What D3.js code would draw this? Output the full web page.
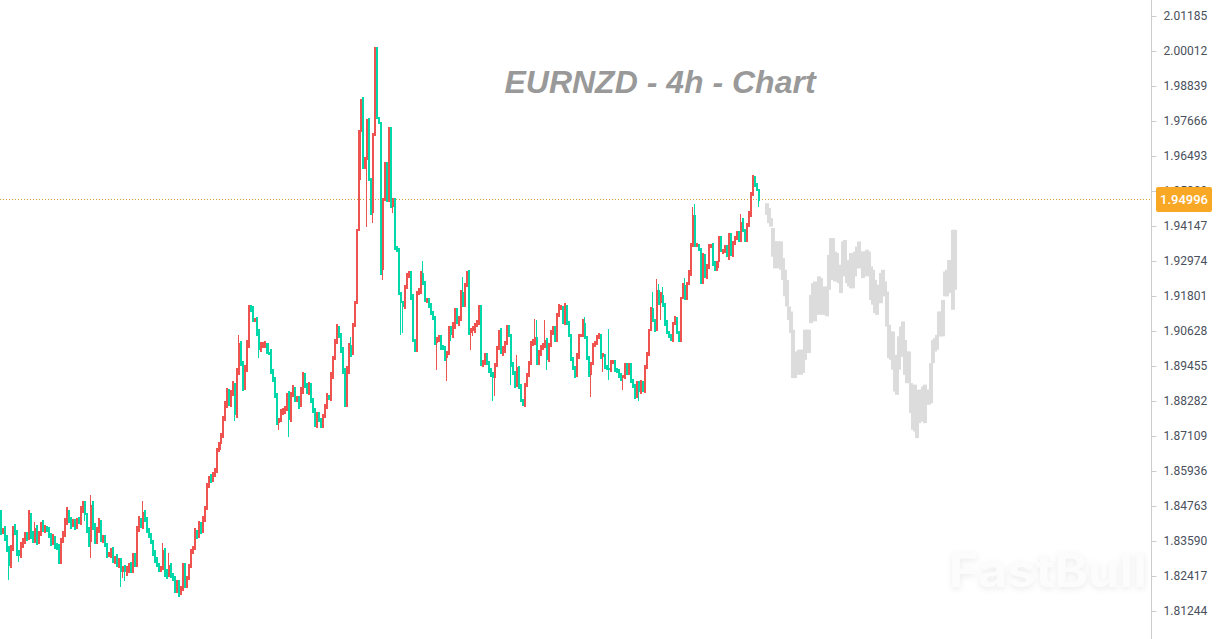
<!DOCTYPE html>
<html>
<head>
<meta charset="utf-8">
<script src="https://d3js.org/d3.v7.min.js"></script>
<style>
    html, body { margin: 0; padding: 0; background: white; overflow: hidden; }
</style>
</head>
<body>
<svg id="chart" width="1219" height="639"></svg>
<script>
var title = "EURNZD - 4h - Chart";
var watermark = "FastBull";
var lastPrice = 1.94996;
var firstOpen = 1.8453;

var tickValues = [2.01185, 2.00012, 1.98839, 1.97666, 1.96493, 1.95320, 1.94147, 1.92974, 1.91801,
    1.90628, 1.89455, 1.88282, 1.87109, 1.85936, 1.84763, 1.83590, 1.82417, 1.81244];

// closing price of each 4h candle, the open is the close before it
var closes = [
    1.8390,1.8397,1.8370,1.8336,1.8276,1.8336,1.8403,1.8390,1.8323,1.8309,
    1.8346,1.8363,1.8380,1.8370,1.8447,1.8380,1.8363,1.8403,1.8356,1.8387,
    1.8413,1.8397,1.8403,1.8397,1.8380,1.8356,1.8370,1.8343,1.8336,1.8296,
    1.8363,1.8380,1.8423,1.8457,1.8430,1.8413,1.8423,1.8410,1.8430,1.8423,
    1.8464,1.8480,1.8447,1.8397,1.8356,1.8480,1.8413,1.8363,1.8397,1.8423,
    1.8363,1.8370,1.8346,1.8313,1.8313,1.8330,1.8296,1.8303,1.8279,1.8296,
    1.8256,1.8269,1.8256,1.8263,1.8279,1.8263,1.8313,1.8279,1.8397,1.8430,
    1.8413,1.8457,1.8430,1.8397,1.8380,1.8356,1.8323,1.8296,1.8279,1.8263,
    1.8269,1.8330,1.8256,1.8246,1.8279,1.8246,1.8236,1.8196,1.8222,1.8189,
    1.8202,1.8279,1.8212,1.8236,1.8276,1.8323,1.8336,1.8390,1.8380,1.8413,
    1.8397,1.8437,1.8470,1.8547,1.8571,1.8564,1.8581,1.8598,1.8664,1.8685,
    1.8711,1.8772,1.8815,1.8859,1.8822,1.8855,1.8882,1.8782,1.8926,1.9023,
    1.8956,1.8872,1.8939,1.9016,1.9140,1.9133,1.9100,1.9100,1.9060,1.8999,
    1.9016,1.9016,1.9016,1.8993,1.8989,1.8926,1.8899,1.8849,1.8755,1.8765,
    1.8792,1.8792,1.8805,1.8849,1.8765,1.8849,1.8865,1.8839,1.8839,1.8815,
    1.8865,1.8916,1.8882,1.8859,1.8882,1.8832,1.8799,1.8748,1.8782,1.8765,
    1.8748,1.8778,1.8809,1.8842,1.8839,1.8912,1.8973,1.9026,1.9073,1.9050,
    1.8999,1.8932,1.8815,1.8932,1.9016,1.8989,1.9083,1.9157,1.9402,1.9730,
    1.9837,1.9609,1.9636,1.9770,1.9569,1.9458,1.9720,2.0011,1.9777,1.9760,
    1.9267,1.9502,1.9626,1.9502,1.9743,1.9479,1.9502,1.9341,1.9334,1.9190,
    1.9157,1.9144,1.9211,1.9251,1.9258,1.9177,1.9033,1.8999,1.9190,1.9200,
    1.9258,1.9224,1.9167,1.9167,1.9150,1.9123,1.9107,1.9023,1.9033,1.9043,
    1.9010,1.9006,1.8973,1.8989,1.9073,1.9050,1.9083,1.9133,1.9093,1.9107,
    1.9194,1.9150,1.9217,1.9261,1.9057,1.9066,1.9066,1.9083,1.9093,1.9144,
    1.8949,1.8956,1.8983,1.8956,1.8932,1.8922,1.8906,1.8949,1.9006,1.9060,
    1.8993,1.8999,1.9023,1.9077,1.9050,1.8943,1.8926,1.8882,1.8943,1.8882,
    1.8832,1.8815,1.8882,1.8916,1.8956,1.9023,1.9023,1.9043,1.8956,1.8993,
    1.9010,1.9016,1.9033,1.8966,1.9016,1.9057,1.9073,1.9033,1.9117,1.9140,
    1.9140,1.9093,1.9144,1.9093,1.9050,1.8973,1.8939,1.8916,1.8983,1.9050,
    1.9050,1.9090,1.9040,1.8973,1.8916,1.8956,1.9016,1.9023,1.9043,1.9050,
    1.8976,1.8983,1.8943,1.8939,1.8932,1.8959,1.8959,1.8932,1.8929,1.8916,
    1.8906,1.8909,1.8949,1.8922,1.8949,1.8899,1.8882,1.8849,1.8892,1.8859,
    1.8892,1.8865,1.8943,1.8983,1.9066,1.9140,1.9100,1.9066,1.9200,1.9157,
    1.9184,1.9150,1.9093,1.9057,1.9047,1.9033,1.9090,1.9107,1.9060,1.9030,
    1.9174,1.9217,1.9174,1.9224,1.9261,1.9351,1.9452,1.9351,1.9351,1.9334,
    1.9224,1.9318,1.9244,1.9284,1.9351,1.9351,1.9294,1.9274,1.9294,1.9375,
    1.9334,1.9334,1.9345,1.9318,1.9385,1.9318,1.9358,1.9375,1.9391,1.9368,
    1.9428,1.9402,1.9368,1.9418,1.9458,1.9526,1.9579,1.9552,1.9535,1.94996
];

// wick above the body, in pips
var upperWicks = [
    10,7,13,10,7,10,7,13,7,7,
    10,7,10,10,17,7,13,20,10,7,
    10,17,10,7,10,7,13,7,10,13,
    7,13,13,17,7,10,10,10,7,10,
    13,13,13,7,10,33,13,7,10,13,
    7,10,10,7,10,7,10,7,13,7,
    7,7,10,13,7,10,7,7,13,13,
    7,37,7,10,7,7,7,7,10,7,
    7,23,7,10,40,7,7,7,7,7,
    7,7,7,7,7,10,7,13,7,13,
    10,7,7,7,7,13,10,7,7,7,
    10,7,13,13,10,10,13,7,13,27,
    7,7,10,17,10,10,13,7,10,10,
    10,10,13,7,30,13,10,10,7,7,
    10,13,7,7,13,10,17,10,7,7,
    10,10,7,7,10,7,7,7,10,10,
    7,7,10,13,7,13,7,10,13,7,
    7,10,7,13,7,27,7,7,3,7,
    3,10,10,3,7,7,7,3,3,3,
    3,7,3,3,3,3,7,7,7,7,
    3,7,7,7,7,7,10,3,7,7,
    7,40,7,7,7,7,7,7,10,7,
    7,7,7,7,7,7,10,7,7,7,
    7,50,7,3,7,7,13,7,7,7,
    7,10,7,7,7,7,3,7,7,7,
    13,13,7,7,7,3,17,3,40,3,
    3,3,7,7,7,7,13,60,57,7,
    7,7,67,7,7,10,7,7,7,13,
    10,7,13,7,3,3,3,7,7,3,
    3,13,20,7,7,3,7,7,7,7,
    3,7,3,7,130,7,7,7,7,7,
    7,7,7,7,7,7,3,3,3,3,
    7,3,7,10,3,3,53,3,37,20,
    10,27,7,7,7,7,3,7,3,3,
    3,7,23,3,7,7,27,37,7,3,
    7,7,3,3,3,3,7,3,3,7,
    7,3,7,7,7,7,7,7,7,7,
    27,13,3,7,7,3,7,3,7,3
];

// wick below the body, in pips
var lowerWicks = [
    10,7,10,13,47,7,10,10,13,20,
    7,10,13,10,7,13,10,10,10,7,
    10,7,10,7,10,13,10,10,7,13,
    13,10,7,10,10,13,7,13,10,7,
    10,10,20,10,17,53,17,13,13,10,
    7,10,7,10,7,10,10,13,7,10,
    50,20,30,13,10,10,10,7,7,7,
    10,13,7,10,10,7,13,10,7,7,
    7,7,17,13,7,10,10,10,10,17,
    10,10,10,10,7,7,7,7,13,10,
    13,10,13,7,10,10,7,7,10,7,
    20,7,10,10,10,13,10,20,10,10,
    10,10,7,13,10,7,7,7,13,27,
    7,10,10,7,7,7,7,10,7,23,
    7,10,7,10,57,7,7,13,13,13,
    7,13,10,7,10,10,10,7,10,7,
    10,10,7,7,7,10,10,7,7,10,
    10,13,7,7,13,13,7,7,3,3,
    160,3,3,224,3,7,33,3,3,3,
    17,33,3,7,7,3,20,7,7,7,
    107,87,7,7,10,10,7,7,7,7,
    13,7,7,10,10,7,7,7,90,7,
    10,7,10,77,7,20,10,13,7,13,
    10,7,7,7,7,57,20,10,7,10,
    3,7,7,7,10,13,77,60,7,7,
    7,13,10,7,7,60,10,10,7,13,
    7,3,7,7,7,7,10,7,7,7,
    13,10,10,33,7,7,7,7,7,7,
    7,7,10,10,7,10,7,10,7,13,
    7,7,3,7,7,74,7,7,7,7,
    7,50,7,7,33,7,7,7,7,10,
    10,40,7,7,7,10,10,13,10,30,
    7,7,10,7,3,3,7,7,3,7,
    57,7,13,3,7,3,7,7,7,3,
    3,3,7,7,7,13,7,7,7,3,
    3,3,3,7,13,10,13,10,10,20,
    7,13,10,7,17,3,7,7,7,7,
    7,7,7,7,7,13,10,7,3,20
];

// the grey path after the last candle
var greyHighs = [
    1.9491,1.9475,1.9441,1.9408,1.9363,1.9363,1.9363,1.9363,1.9307,1.9268,
    1.9234,1.9145,1.9128,1.9067,1.8994,1.8989,1.9000,1.9000,1.9000,1.9067,
    1.9067,1.9067,1.9184,1.9223,1.9229,1.9223,1.9246,1.9240,1.9201,1.9212,
    1.9212,1.9318,1.9374,1.9374,1.9329,1.9324,1.9285,1.9268,1.9363,1.9368,
    1.9301,1.9301,1.9324,1.9273,1.9329,1.9346,1.9363,1.9329,1.9329,1.9329,
    1.9335,1.9329,1.9279,1.9268,1.9234,1.9218,1.9212,1.9257,1.9268,1.9229,
    1.9195,1.9084,1.9061,1.9061,1.8983,1.8944,1.9045,1.9078,1.9095,1.9033,
    1.8994,1.8994,1.8888,1.8877,1.8883,1.8821,1.8866,1.8866,1.8877,1.8883,
    1.8866,1.8866,1.8955,1.9033,1.9039,1.9050,1.9128,1.9128,1.9167,1.9262,
    1.9268,1.9301,1.9296,1.9402,1.9402
];
var greyLows = [
    1.9452,1.9424,1.9413,1.9312,1.9273,1.9273,1.9301,1.9268,1.9234,1.9179,
    1.9145,1.9100,1.9056,1.8905,1.8905,1.8916,1.8922,1.8916,1.8922,1.8966,
    1.8994,1.8989,1.9089,1.9117,1.9095,1.9117,1.9151,1.9117,1.9123,1.9117,
    1.9112,1.9201,1.9234,1.9268,1.9229,1.9229,1.9223,1.9190,1.9246,1.9268,
    1.9223,1.9212,1.9206,1.9206,1.9246,1.9273,1.9273,1.9273,1.9240,1.9246,
    1.9251,1.9246,1.9167,1.9151,1.9123,1.9117,1.9156,1.9156,1.9190,1.9179,
    1.9078,1.8972,1.8966,1.8933,1.8860,1.8849,1.8933,1.8977,1.8977,1.8916,
    1.8888,1.8888,1.8788,1.8732,1.8726,1.8704,1.8754,1.8760,1.8760,1.8754,
    1.8816,1.8816,1.8821,1.8955,1.8994,1.9000,1.9045,1.9045,1.9045,1.9179,
    1.9179,1.9201,1.9190,1.9134,1.9201
];

var upColor = "#ef5350";
var downColor = "#00d8aa";
var greyColor = "#dcdcdc";
var priceColor = "#f9a825";
var axisX = 1151.5;
var pip = 0.0001;
var greyStart = 383;
var priceY = 199.5;
var shortWick = 17;

var svg = d3.select("#chart");

var xScale = d3.scaleLinear().domain([0, closes.length - 1]).range([1, 759]);
var yScale = d3.scaleLinear().domain([1.81244, 2.01185]).range([611, 16]);

var candles = closes.map(function(c, i) {
    var o = i === 0 ? firstOpen : closes[i - 1];
    return {
        index: i,
        open: o,
        close: c,
        top: Math.max(o, c),
        bottom: Math.min(o, c),
        high: Math.max(o, c) + upperWicks[i] * pip,
        low: Math.min(o, c) - lowerWicks[i] * pip,
        upper: upperWicks[i],
        lower: lowerWicks[i]
    };
});

var greyBars = greyHighs.map(function(h, i) {
    return { index: greyStart + i, high: h, low: greyLows[i] };
});

// watermark sits below everything
svg.append("text")
    .attr("x", 949)
    .attr("y", 587)
    .attr("font-family", "Inter, sans-serif")
    .attr("font-weight", 700)
    .attr("font-size", 46)
    .attr("textLength", 198)
    .attr("lengthAdjust", "spacingAndGlyphs")
    .attr("fill", "#fcfcfc")
    .style("filter", "drop-shadow(0px 2px 3px rgba(0,0,0,0.08))")
    .text(watermark);

svg.append("text")
    .attr("x", 660)
    .attr("y", 93)
    .attr("text-anchor", "middle")
    .attr("font-family", "'Liberation Sans', Arial, sans-serif")
    .attr("font-weight", 700)
    .attr("font-style", "italic")
    .attr("font-size", 32)
    .attr("fill", "#999999")
    .text(title);

svg.append("line")
    .attr("x1", 0)
    .attr("x2", axisX)
    .attr("y1", priceY)
    .attr("y2", priceY)
    .attr("stroke", "#e0a040")
    .attr("stroke-width", 1)
    .attr("stroke-dasharray", "1,2");

svg.append("g").selectAll("rect").data(greyBars).enter()
    .append("rect")
    .attr("x", function(d) { return xScale(d.index) - 2; })
    .attr("width", 4)
    .attr("y", function(d) { return yScale(d.high); })
    .attr("height", function(d) { return yScale(d.low) - yScale(d.high); })
    .attr("fill", greyColor);

var candleColor = function(d) { return d.close >= d.open ? upColor : downColor; };
var wickWidth = function(pips) { return pips <= shortWick ? 2 : 1; };

var candleGroup = svg.append("g")
    .attr("shape-rendering", "crispEdges")
    .selectAll("g").data(candles).enter()
    .append("g");

// short wicks run together with the body, long ones stay thin
candleGroup.append("rect")
    .attr("fill", candleColor)
    .attr("x", function(d) { return xScale(d.index) - 1; })
    .attr("width", function(d) { return wickWidth(d.upper); })
    .attr("y", function(d) { return yScale(d.high); })
    .attr("height", function(d) { return yScale(d.top) - yScale(d.high); });

candleGroup.append("rect")
    .attr("fill", candleColor)
    .attr("x", function(d) { return xScale(d.index) - 1; })
    .attr("width", function(d) { return wickWidth(d.lower); })
    .attr("y", function(d) { return yScale(d.bottom); })
    .attr("height", function(d) { return yScale(d.low) - yScale(d.bottom); });

candleGroup.append("rect")
    .attr("fill", candleColor)
    .attr("x", function(d) { return xScale(d.index) - 1; })
    .attr("width", 2)
    .attr("y", function(d) { return yScale(d.top); })
    .attr("height", function(d) { return Math.max(1, yScale(d.bottom) - yScale(d.top)); });

var axis = d3.axisRight(yScale)
    .tickValues(tickValues)
    .tickFormat(d3.format(".5f"))
    .tickSize(5)
    .tickPadding(7);

var axisGroup = svg.append("g")
    .attr("transform", "translate(" + axisX + ",0)")
    .call(axis);

axisGroup.select(".domain").attr("stroke", "#cccccc").attr("d", "M0,0V639");
axisGroup.selectAll(".tick line").attr("stroke", "#cccccc");
axisGroup.selectAll(".tick text")
    .attr("font-family", "Roboto, sans-serif")
    .attr("font-size", 12)
    .attr("fill", "#4a505c");

svg.append("rect")
    .attr("x", 1156)
    .attr("y", priceY - 12.5)
    .attr("width", 56)
    .attr("height", 25)
    .attr("rx", 2)
    .attr("fill", priceColor);

svg.append("text")
    .attr("x", 1184)
    .attr("y", priceY + 4.5)
    .attr("text-anchor", "middle")
    .attr("font-family", "Roboto, sans-serif")
    .attr("font-size", 13)
    .attr("font-weight", 500)
    .attr("fill", "white")
    .text(d3.format(".5f")(lastPrice));
</script>
</body>
</html>
